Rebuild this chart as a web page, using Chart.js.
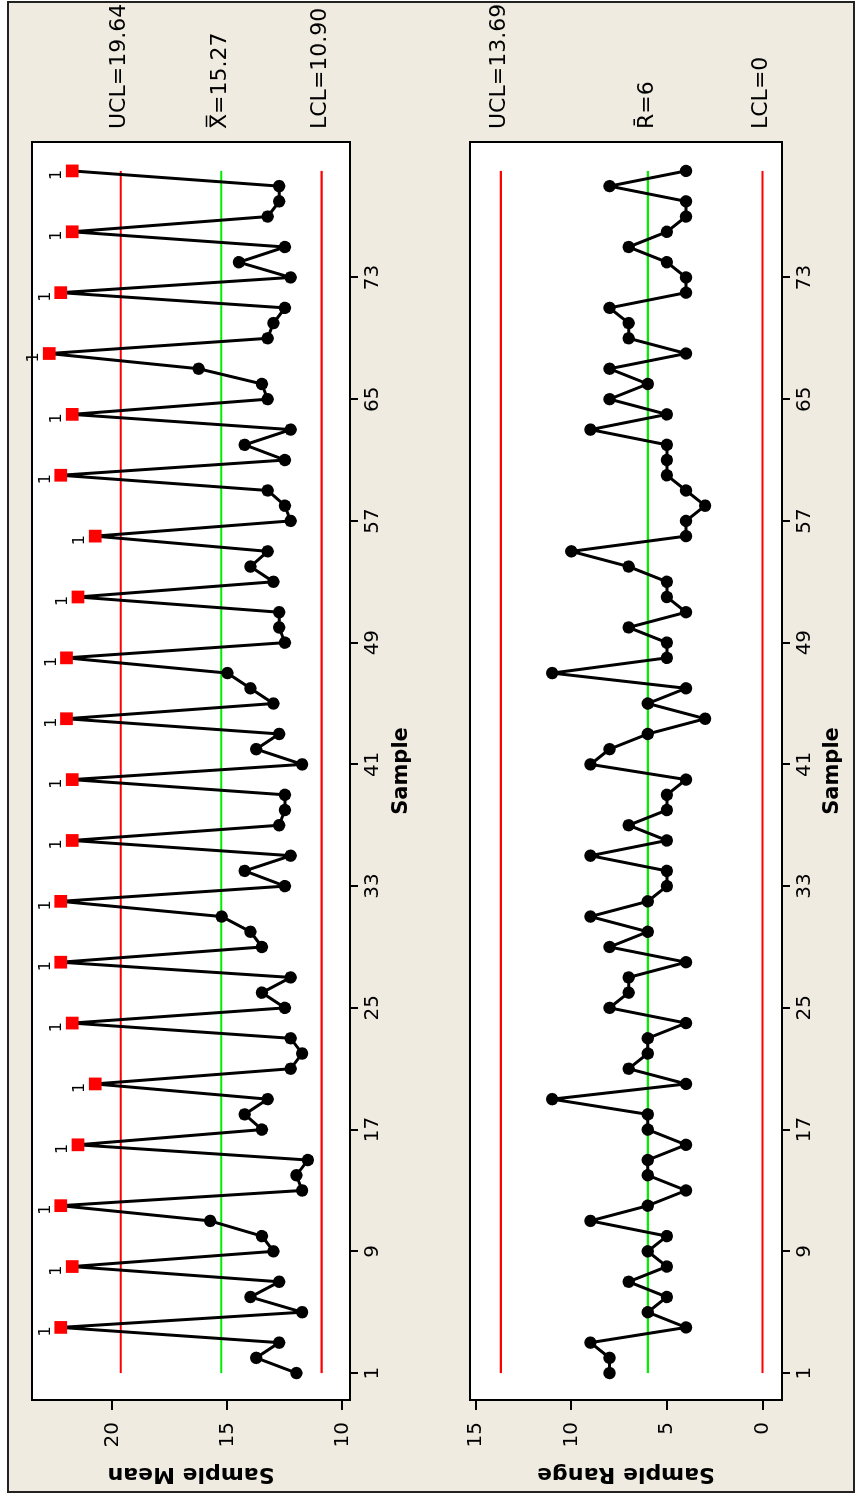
<!DOCTYPE html>
<html>
<head>
<meta charset="utf-8">
<title>Xbar-R Chart</title>
<script src="https://cdn.jsdelivr.net/npm/chart.js@4.4.1/dist/chart.umd.min.js"></script>
<style>
    html, body { margin: 0; padding: 0; background: #fff; }
    /* the chart is laid out landscape and then turned a quarter turn left */
    #page {
        position: absolute; left: 0; top: 0;
        width: 1501px; height: 858px;
        transform-origin: 0 0;
        transform: translateY(1501px) rotate(-90deg);
    }
    #frame {
        position: absolute; left: 8px; top: 7px;
        width: 1488px; height: 844px;
        background: #efebe1; border: 2px solid #222;
    }
    canvas { position: absolute; left: 0; }
    #meanChart { top: 0; }
    #rangeChart { top: 430px; }
</style>
</head>
<body>
<div id="page">
    <div id="frame"></div>
    <canvas id="meanChart" width="1501" height="430"></canvas>
    <canvas id="rangeChart" width="1501" height="428"></canvas>
</div>
<script>
// Subgroup means (n = 4), samples 1..80
const meanValues = [
    12, 13.75, 12.75, 22.25, 11.75, 14, 12.75, 21.75, 13, 13.5,
    15.75, 22.25, 11.75, 12, 11.5, 21.5, 13.5, 14.25, 13.25, 20.75,
    12.25, 11.75, 12.25, 21.75, 12.5, 13.5, 12.25, 22.25, 13.5, 14,
    15.25, 22.25, 12.5, 14.25, 12.25, 21.75, 12.75, 12.5, 12.5, 21.75,
    11.75, 13.75, 12.75, 22, 13, 14, 15, 22, 12.5, 12.75,
    12.75, 21.5, 13, 14, 13.25, 20.75, 12.25, 12.5, 13.25, 22.25,
    12.5, 14.25, 12.25, 21.75, 13.25, 13.5, 16.25, 22.75, 13.25, 13,
    12.5, 22.25, 12.25, 14.5, 12.5, 21.75, 13.25, 12.75, 12.75, 21.75
];

// Subgroup ranges
const rangeValues = [
    8, 8, 9, 4, 6, 5, 7, 5, 6, 5,
    9, 6, 4, 6, 6, 4, 6, 6, 11, 4,
    7, 6, 6, 4, 8, 7, 7, 4, 8, 6,
    9, 6, 5, 5, 9, 5, 7, 5, 5, 4,
    9, 8, 6, 3, 6, 4, 11, 5, 5, 7,
    4, 5, 5, 7, 10, 4, 4, 3, 4, 5,
    5, 5, 9, 5, 8, 6, 8, 4, 7, 7,
    8, 4, 4, 5, 7, 5, 4, 4, 8, 4
];

// Control limits: [UCL, center, LCL]
const meanLimits = [19.64, 15.27, 10.90];
const meanLimitLabels = ['UCL=19.64', 'X\u033F=15.27', 'LCL=10.90'];
const rangeLimits = [13.69, 6, 0];
const rangeLimitLabels = ['UCL=13.69', 'R\u0304=6', 'LCL=0'];

// Tick labels
const sampleTicks = [1, 9, 17, 25, 33, 41, 49, 57, 65, 73];
const meanTicks = [10, 15, 20];
const rangeTicks = [0, 5, 10, 15];

Chart.defaults.font.family = '"DejaVu Sans", Verdana, sans-serif';
Chart.defaults.color = '#000';

// White plot box with a black frame, limit labels and "1" flags
const panelPlugin = {
    id: 'panel',
    beforeDraw(chart) {
        const { ctx, chartArea: a } = chart;
        ctx.save();
        ctx.fillStyle = '#fff';
        ctx.fillRect(a.left, a.top, a.right - a.left, a.bottom - a.top);
        ctx.restore();
    },
    afterDraw(chart) {
        const { ctx, chartArea: a } = chart;
        const cfg = chart.options.plugins.panel;
        ctx.save();
        ctx.strokeStyle = '#000';
        ctx.lineWidth = 2;
        ctx.strokeRect(a.left, a.top, a.right - a.left, a.bottom - a.top);

        ctx.fillStyle = '#000';
        ctx.font = '22px "DejaVu Sans"';
        ctx.textAlign = 'left';
        ctx.textBaseline = 'middle';
        cfg.limits.forEach((v, i) => {
            const y = chart.scales.y.getPixelForValue(v);
            ctx.fillText(cfg.labels[i], a.right + 13, y - 1);
        });

        ctx.font = '16px "DejaVu Sans"';
        ctx.textAlign = 'center';
        const meta = chart.getDatasetMeta(0);
        meta.data.forEach((pt, i) => {
            if (cfg.values[i] > cfg.limits[0]) {
                ctx.fillText('1', pt.x - 4, pt.y - 15);
            }
        });
        ctx.restore();
    }
};

function makeControlChart(canvasId, values, limits, labels, yTicks, yMin, yMax, yTitle, padTop, xAxisHeight, titleGap) {
    const ucl = limits[0];
    const points = values.map((v, i) => ({ x: i + 1, y: v }));
    const first = 1, last = values.length;

    const limitSet = (v, color) => ({
        data: [{ x: first, y: v }, { x: last, y: v }],
        borderColor: color,
        borderWidth: 2.2,
        pointRadius: 0,
        order: 1
    });

    return new Chart(document.getElementById(canvasId), {
        type: 'line',
        data: {
            datasets: [{
                data: points,
                borderColor: '#000',
                borderWidth: 3,
                borderJoinStyle: 'round',
                pointStyle: values.map(v => v > ucl ? 'rect' : 'circle'),
                pointRadius: values.map(v => v > ucl ? 9 : 6.2),
                pointBackgroundColor: values.map(v => v > ucl ? '#ff0000' : '#000'),
                pointBorderColor: values.map(v => v > ucl ? '#ff0000' : '#000'),
                pointBorderWidth: 0,
                order: 0
            },
            limitSet(limits[0], '#ff0000'),
            limitSet(limits[1], '#00ee00'),
            limitSet(limits[2], '#ff0000')]
        },
        options: {
            responsive: false,
            animation: false,
            devicePixelRatio: 1,
            layout: { padding: { left: 0, right: 142, top: padTop, bottom: 0 } },
            plugins: {
                legend: { display: false },
                tooltip: { enabled: false },
                panel: { limits: limits, labels: labels, values: values }
            },
            scales: {
                x: {
                    type: 'linear',
                    min: -0.77,
                    max: 81.9,
                    afterBuildTicks: s => { s.ticks = sampleTicks.map(v => ({ value: v })); },
                    afterFit: s => { s.height = xAxisHeight; },
                    grid: { drawOnChartArea: false, drawTicks: true, tickLength: 8, color: '#000', lineWidth: 2 },
                    border: { display: false },
                    ticks: { font: { size: 20 }, padding: 3, maxRotation: 0, autoSkip: false },
                    title: { display: true, text: 'Sample', font: { size: 21, weight: 'bold' }, padding: { top: 0, bottom: titleGap } }
                },
                y: {
                    min: yMin,
                    max: yMax,
                    afterBuildTicks: s => { s.ticks = yTicks.map(v => ({ value: v })); },
                    afterFit: s => { s.width = 101; },
                    grid: { drawOnChartArea: false, drawTicks: true, tickLength: 10, color: '#000', lineWidth: 2 },
                    border: { display: false },
                    ticks: { font: { size: 20 }, padding: 12 },
                    title: { display: true, text: yTitle, font: { size: 22, weight: 'bold' }, padding: { top: 14, bottom: 0 } }
                }
            }
        },
        plugins: [panelPlugin]
    });
}

makeControlChart('meanChart', meanValues, meanLimits, meanLimitLabels, meanTicks,
    9.67, 23.5, 'Sample Mean', 32, 80, 16);
makeControlChart('rangeChart', rangeValues, rangeLimits, rangeLimitLabels, rangeTicks,
    -1.02, 15.3, 'Sample Range', 40, 76, 13);
</script>
</body>
</html>
